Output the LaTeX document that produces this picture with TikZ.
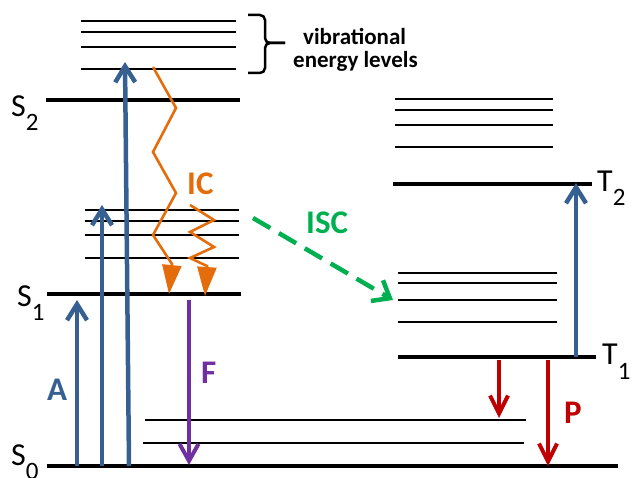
\documentclass[tikz,border=0pt]{standalone}
\usepackage{fontspec}
\setmainfont{Carlito}
\usetikzlibrary{arrows.meta}
\definecolor{eblue}{RGB}{55,96,146}
\definecolor{eorange}{RGB}{228,108,10}
\definecolor{egreen}{RGB}{0,176,80}
\definecolor{ered}{RGB}{192,0,0}
\definecolor{epurple}{RGB}{112,48,160}
\newcommand\lsub[1]{\raisebox{-14pt}{\fontsize{25}{25}\selectfont #1}}
\begin{document}
\begin{tikzpicture}[x=1pt,y=-1pt,
  thicklevel/.style={line width=4.5pt},
  viblevel/.style={line width=2.8pt},
  groundvib/.style={line width=2.3pt},
  absarrow/.style={eblue,line width=4.5pt,-{Straight Barb[length=16pt,width=20pt]}},
  flarrow/.style={epurple,line width=4pt,-{Straight Barb[length=17pt,width=19pt]}},
  phosarrow/.style={ered,line width=4pt,-{Straight Barb[length=18pt,width=18pt]}},
  icarrow/.style={eorange,line width=2.6pt,-{Triangle[length=29pt,width=19pt]}},
  iscarrow/.style={egreen,line width=4.5pt,dash pattern=on 20pt off 10pt,-{Straight Barb[length=15pt,width=24pt]}},
  bracestyle/.style={line width=2.5pt,rounded corners=5pt},
  lvllabel/.style={inner sep=0pt,anchor=base west,font=\fontsize{32}{32}\selectfont},
  proclabel/.style={inner sep=0pt,anchor=base west,font=\bfseries\fontsize{33}{33}\selectfont},
  notelabel/.style={inner sep=0pt,anchor=base west,font=\bfseries\fontsize{23}{23}\selectfont},
]
\useasboundingbox (0,0) rectangle (632,478);

% S2 vibrational levels and S2
\foreach \y in {21,32,47,69} \draw[viblevel] (81,\y) -- (236,\y);
\draw[thicklevel] (46,100) -- (240,100);
% S1 vibrational levels and S1
\foreach \y in {210,221,235,258} \draw[viblevel] (85,\y) -- (239,\y);
\draw[thicklevel] (47,294) -- (241,294);
% S0 vibrational levels and S0
\draw[groundvib] (145,420) -- (526,420);
\draw[groundvib] (143,443) -- (524,443);
\draw[thicklevel] (47,466) -- (618,466);
% T2 vibrational levels and T2
\foreach \y in {99,110,125,147} \draw[viblevel] (395,\y) -- (553,\y);
\draw[thicklevel] (393,184) -- (592,184);
% T1 vibrational levels and T1
\foreach \y in {273,283,300,322} \draw[viblevel] (398,\y) -- (557,\y);
\draw[thicklevel] (398,357) -- (596,357);

% brace
\draw[bracestyle] (248,15) -- (265,15) -- (265,43) -- (285,43);
\draw[bracestyle] (248,73) -- (265,73) -- (265,43) -- (285,43);

% level labels
\node[lvllabel] (s2) at (11,117) {S\lsub{2}};
\node[lvllabel] (s1) at (17,307) {S\lsub{1}};
\node[lvllabel] (s0) at (11,465) {S\lsub{0}};
\node[lvllabel] (t2) at (597,192) {T\lsub{2}};
\node[lvllabel] (t1) at (602,365) {T\lsub{1}};

% endpoints
\coordinate (a1b) at (77,466);  \coordinate (a1t) at (77,300);
\coordinate (a2b) at (102,466); \coordinate (a2t) at (102,205);
\coordinate (a3b) at (129,466); \coordinate (a3t) at (125,62);
\coordinate (tab) at (576,357); \coordinate (tat) at (576,183);
\coordinate (fb) at (189,300);  \coordinate (ft) at (189,465);
\coordinate (p1b) at (499,360); \coordinate (p1t) at (499,418);
\coordinate (p2b) at (548,360); \coordinate (p2t) at (548,466);
\coordinate (iscs) at (253,218); \coordinate (isce) at (393,300);

% absorption
\draw[absarrow] (a1b) -- (a1t);
\draw[absarrow] (a2b) -- (a2t);
\draw[absarrow] (a3b) -- (a3t);
\draw[absarrow] (tab) -- (tat);
% fluorescence
\draw[flarrow] (fb) -- (ft);
% phosphorescence
\draw[phosarrow] (p1b) -- (p1t);
\draw[phosarrow] (p2b) -- (p2t);
% internal conversion
\draw[icarrow] (153,67) -- (176,108) -- (153,152) -- (176,193) -- (153,235) -- (172,264) -- (169,294);
\draw[icarrow] (190,205) -- (214,220) -- (190,232) -- (214,247) -- (190,258) -- (207,266) -- (205,296);
% intersystem crossing
\draw[iscarrow] (iscs) -- (isce);

% process labels
\node[proclabel,text=eblue] (la) at (47,400) {A};
\node[proclabel,text=epurple] (lf) at (201,383) {F};
\node[proclabel,text=ered] (lp) at (564,423) {P};
\node[proclabel,text=eorange] (lic) at (187,195) {IC};
\node[proclabel,text=egreen] (lisc) at (306,234) {ISC};
\node[notelabel] (nv) at (303,45) {vibrational};
\node[notelabel] (ne) at (293,68) {energy levels};
\end{tikzpicture}
\end{document}
